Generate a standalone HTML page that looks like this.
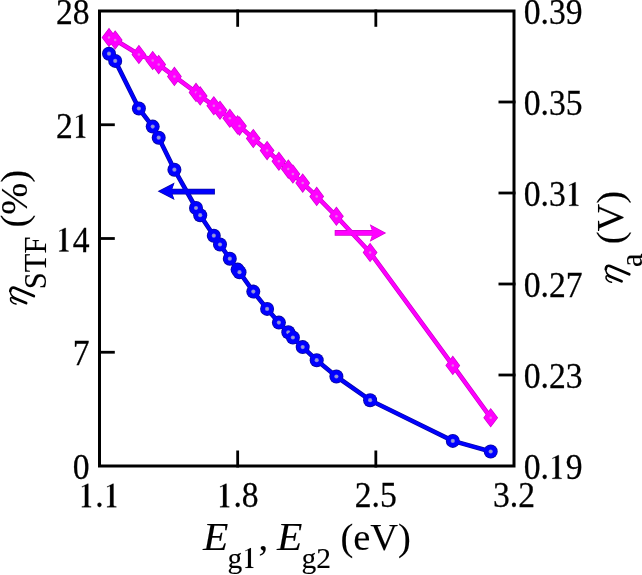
<!DOCTYPE html>
<html><head><meta charset="utf-8"><style>
html,body{margin:0;padding:0;background:#fff;}
svg{display:block;will-change:transform;}
text{font-family:"Liberation Serif",serif;font-size:35px;fill:#000;stroke:#000;stroke-width:0.25px;}
</style></head><body>
<svg width="642" height="575" viewBox="0 0 642 575">
<rect width="642" height="575" fill="#fff"/>
<polyline points="109.0,37.5 115.2,40.0 138.9,54.5 152.7,60.5 158.7,64.6 174.4,76.4 196.0,92.4 200.2,95.9 213.8,105.8 220.0,110.2 229.8,118.2 237.6,124.9 239.5,126.1 253.3,138.5 267.1,150.6 278.9,161.2 288.3,169.1 292.9,174.0 302.7,183.1 316.7,196.4 336.4,216.3 370.1,252.5 452.8,365.4 490.7,417.7" fill="none" stroke="#cc00cc" stroke-width="4.6" stroke-linejoin="round"/>
<path d="M109.00,27.70L116.40,37.50L109.00,47.30L101.60,37.50Z" fill="#cc00cc"/>
<path d="M115.20,30.20L122.60,40.00L115.20,49.80L107.80,40.00Z" fill="#cc00cc"/>
<path d="M138.90,44.70L146.30,54.50L138.90,64.30L131.50,54.50Z" fill="#cc00cc"/>
<path d="M152.70,50.70L160.10,60.50L152.70,70.30L145.30,60.50Z" fill="#cc00cc"/>
<path d="M158.70,54.80L166.10,64.60L158.70,74.40L151.30,64.60Z" fill="#cc00cc"/>
<path d="M174.40,66.60L181.80,76.40L174.40,86.20L167.00,76.40Z" fill="#cc00cc"/>
<path d="M196.00,82.60L203.40,92.40L196.00,102.20L188.60,92.40Z" fill="#cc00cc"/>
<path d="M200.20,86.10L207.60,95.90L200.20,105.70L192.80,95.90Z" fill="#cc00cc"/>
<path d="M213.80,96.00L221.20,105.80L213.80,115.60L206.40,105.80Z" fill="#cc00cc"/>
<path d="M220.00,100.40L227.40,110.20L220.00,120.00L212.60,110.20Z" fill="#cc00cc"/>
<path d="M229.80,108.40L237.20,118.20L229.80,128.00L222.40,118.20Z" fill="#cc00cc"/>
<path d="M237.60,115.10L245.00,124.90L237.60,134.70L230.20,124.90Z" fill="#cc00cc"/>
<path d="M239.50,116.30L246.90,126.10L239.50,135.90L232.10,126.10Z" fill="#cc00cc"/>
<path d="M253.30,128.70L260.70,138.50L253.30,148.30L245.90,138.50Z" fill="#cc00cc"/>
<path d="M267.10,140.80L274.50,150.60L267.10,160.40L259.70,150.60Z" fill="#cc00cc"/>
<path d="M278.90,151.40L286.30,161.20L278.90,171.00L271.50,161.20Z" fill="#cc00cc"/>
<path d="M288.30,159.30L295.70,169.10L288.30,178.90L280.90,169.10Z" fill="#cc00cc"/>
<path d="M292.90,164.20L300.30,174.00L292.90,183.80L285.50,174.00Z" fill="#cc00cc"/>
<path d="M302.70,173.30L310.10,183.10L302.70,192.90L295.30,183.10Z" fill="#cc00cc"/>
<path d="M316.70,186.60L324.10,196.40L316.70,206.20L309.30,196.40Z" fill="#cc00cc"/>
<path d="M336.40,206.50L343.80,216.30L336.40,226.10L329.00,216.30Z" fill="#cc00cc"/>
<path d="M370.10,242.70L377.50,252.50L370.10,262.30L362.70,252.50Z" fill="#cc00cc"/>
<path d="M452.80,355.60L460.20,365.40L452.80,375.20L445.40,365.40Z" fill="#cc00cc"/>
<path d="M490.70,407.90L498.10,417.70L490.70,427.50L483.30,417.70Z" fill="#cc00cc"/>
<line x1="334.7" y1="232.9" x2="376" y2="232.9" stroke="#cc00cc" stroke-width="5.6"/><polygon points="386.2,233.0 369.8,224.3 372.8,233.0 369.8,241.7" fill="#cc00cc"/>
<polyline points="109.0,37.5 115.2,40.0 138.9,54.5 152.7,60.5 158.7,64.6 174.4,76.4 196.0,92.4 200.2,95.9 213.8,105.8 220.0,110.2 229.8,118.2 237.6,124.9 239.5,126.1 253.3,138.5 267.1,150.6 278.9,161.2 288.3,169.1 292.9,174.0 302.7,183.1 316.7,196.4 336.4,216.3 370.1,252.5 452.8,365.4 490.7,417.7" fill="none" stroke="#ff00ff" stroke-width="3.1999999999999997" stroke-linejoin="round"/>
<path d="M109.00,28.74L115.60,37.50L109.00,46.26L102.40,37.50Z" fill="#ff00ff"/><circle cx="109.0" cy="37.5" r="1.25" fill="#e872e8"/>
<path d="M115.20,31.24L121.80,40.00L115.20,48.76L108.60,40.00Z" fill="#ff00ff"/><circle cx="115.2" cy="40.0" r="1.25" fill="#e872e8"/>
<path d="M138.90,45.74L145.50,54.50L138.90,63.26L132.30,54.50Z" fill="#ff00ff"/><circle cx="138.9" cy="54.5" r="1.25" fill="#e872e8"/>
<path d="M152.70,51.74L159.30,60.50L152.70,69.26L146.10,60.50Z" fill="#ff00ff"/><circle cx="152.7" cy="60.5" r="1.25" fill="#e872e8"/>
<path d="M158.70,55.84L165.30,64.60L158.70,73.36L152.10,64.60Z" fill="#ff00ff"/><circle cx="158.7" cy="64.6" r="1.25" fill="#e872e8"/>
<path d="M174.40,67.64L181.00,76.40L174.40,85.16L167.80,76.40Z" fill="#ff00ff"/><circle cx="174.4" cy="76.4" r="1.25" fill="#e872e8"/>
<path d="M196.00,83.64L202.60,92.40L196.00,101.16L189.40,92.40Z" fill="#ff00ff"/><circle cx="196.0" cy="92.4" r="1.25" fill="#e872e8"/>
<path d="M200.20,87.14L206.80,95.90L200.20,104.66L193.60,95.90Z" fill="#ff00ff"/><circle cx="200.2" cy="95.9" r="1.25" fill="#e872e8"/>
<path d="M213.80,97.04L220.40,105.80L213.80,114.56L207.20,105.80Z" fill="#ff00ff"/><circle cx="213.8" cy="105.8" r="1.25" fill="#e872e8"/>
<path d="M220.00,101.44L226.60,110.20L220.00,118.96L213.40,110.20Z" fill="#ff00ff"/><circle cx="220.0" cy="110.2" r="1.25" fill="#e872e8"/>
<path d="M229.80,109.44L236.40,118.20L229.80,126.96L223.20,118.20Z" fill="#ff00ff"/><circle cx="229.8" cy="118.2" r="1.25" fill="#e872e8"/>
<path d="M237.60,116.14L244.20,124.90L237.60,133.66L231.00,124.90Z" fill="#ff00ff"/><circle cx="237.6" cy="124.9" r="1.25" fill="#e872e8"/>
<path d="M239.50,117.34L246.10,126.10L239.50,134.86L232.90,126.10Z" fill="#ff00ff"/><circle cx="239.5" cy="126.1" r="1.25" fill="#e872e8"/>
<path d="M253.30,129.74L259.90,138.50L253.30,147.26L246.70,138.50Z" fill="#ff00ff"/><circle cx="253.3" cy="138.5" r="1.25" fill="#e872e8"/>
<path d="M267.10,141.84L273.70,150.60L267.10,159.36L260.50,150.60Z" fill="#ff00ff"/><circle cx="267.1" cy="150.6" r="1.25" fill="#e872e8"/>
<path d="M278.90,152.44L285.50,161.20L278.90,169.96L272.30,161.20Z" fill="#ff00ff"/><circle cx="278.9" cy="161.2" r="1.25" fill="#e872e8"/>
<path d="M288.30,160.34L294.90,169.10L288.30,177.86L281.70,169.10Z" fill="#ff00ff"/><circle cx="288.3" cy="169.1" r="1.25" fill="#e872e8"/>
<path d="M292.90,165.24L299.50,174.00L292.90,182.76L286.30,174.00Z" fill="#ff00ff"/><circle cx="292.9" cy="174.0" r="1.25" fill="#e872e8"/>
<path d="M302.70,174.34L309.30,183.10L302.70,191.86L296.10,183.10Z" fill="#ff00ff"/><circle cx="302.7" cy="183.1" r="1.25" fill="#e872e8"/>
<path d="M316.70,187.64L323.30,196.40L316.70,205.16L310.10,196.40Z" fill="#ff00ff"/><circle cx="316.7" cy="196.4" r="1.25" fill="#e872e8"/>
<path d="M336.40,207.54L343.00,216.30L336.40,225.06L329.80,216.30Z" fill="#ff00ff"/><circle cx="336.4" cy="216.3" r="1.25" fill="#e872e8"/>
<path d="M370.10,243.74L376.70,252.50L370.10,261.26L363.50,252.50Z" fill="#ff00ff"/><circle cx="370.1" cy="252.5" r="1.25" fill="#e872e8"/>
<path d="M452.80,356.64L459.40,365.40L452.80,374.16L446.20,365.40Z" fill="#ff00ff"/><circle cx="452.8" cy="365.4" r="1.25" fill="#e872e8"/>
<path d="M490.70,408.94L497.30,417.70L490.70,426.46L484.10,417.70Z" fill="#ff00ff"/><circle cx="490.7" cy="417.7" r="1.25" fill="#e872e8"/>
<line x1="335.4" y1="232.9" x2="376" y2="232.9" stroke="#ff00ff" stroke-width="4.2"/><polygon points="384.92,233.00 370.48,225.34 373.12,233.00 370.48,240.66" fill="#ff00ff"/>
<polyline points="109.0,53.7 115.2,60.9 138.9,108.5 152.7,126.6 158.7,137.7 174.4,169.7 196.0,208.0 200.2,215.2 213.8,235.7 220.0,244.5 229.8,258.7 237.6,269.6 239.5,272.2 253.3,291.6 267.1,308.9 278.9,322.6 288.3,332.3 292.9,337.5 302.7,347.1 316.7,360.2 336.4,376.5 370.1,400.2 452.8,440.9 490.7,451.5" fill="none" stroke="#0808a0" stroke-width="4.6" stroke-linejoin="round"/>
<circle cx="109.0" cy="53.7" r="7" fill="#0808a0"/>
<circle cx="115.2" cy="60.9" r="7" fill="#0808a0"/>
<circle cx="138.9" cy="108.5" r="7" fill="#0808a0"/>
<circle cx="152.7" cy="126.6" r="7" fill="#0808a0"/>
<circle cx="158.7" cy="137.7" r="7" fill="#0808a0"/>
<circle cx="174.4" cy="169.7" r="7" fill="#0808a0"/>
<circle cx="196.0" cy="208.0" r="7" fill="#0808a0"/>
<circle cx="200.2" cy="215.2" r="7" fill="#0808a0"/>
<circle cx="213.8" cy="235.7" r="7" fill="#0808a0"/>
<circle cx="220.0" cy="244.5" r="7" fill="#0808a0"/>
<circle cx="229.8" cy="258.7" r="7" fill="#0808a0"/>
<circle cx="237.6" cy="269.6" r="7" fill="#0808a0"/>
<circle cx="239.5" cy="272.2" r="7" fill="#0808a0"/>
<circle cx="253.3" cy="291.6" r="7" fill="#0808a0"/>
<circle cx="267.1" cy="308.9" r="7" fill="#0808a0"/>
<circle cx="278.9" cy="322.6" r="7" fill="#0808a0"/>
<circle cx="288.3" cy="332.3" r="7" fill="#0808a0"/>
<circle cx="292.9" cy="337.5" r="7" fill="#0808a0"/>
<circle cx="302.7" cy="347.1" r="7" fill="#0808a0"/>
<circle cx="316.7" cy="360.2" r="7" fill="#0808a0"/>
<circle cx="336.4" cy="376.5" r="7" fill="#0808a0"/>
<circle cx="370.1" cy="400.2" r="7" fill="#0808a0"/>
<circle cx="452.8" cy="440.9" r="7" fill="#0808a0"/>
<circle cx="490.7" cy="451.5" r="7" fill="#0808a0"/>
<line x1="168" y1="191.6" x2="214.9" y2="191.6" stroke="#0808a0" stroke-width="5.6"/><polygon points="157.6,191.3 174.6,182.6 171.5,191.3 174.6,200.0" fill="#0808a0"/>
<polyline points="109.0,53.7 115.2,60.9 138.9,108.5 152.7,126.6 158.7,137.7 174.4,169.7 196.0,208.0 200.2,215.2 213.8,235.7 220.0,244.5 229.8,258.7 237.6,269.6 239.5,272.2 253.3,291.6 267.1,308.9 278.9,322.6 288.3,332.3 292.9,337.5 302.7,347.1 316.7,360.2 336.4,376.5 370.1,400.2 452.8,440.9 490.7,451.5" fill="none" stroke="#0000ff" stroke-width="3.1999999999999997" stroke-linejoin="round"/>
<circle cx="109.0" cy="53.7" r="6.2" fill="#0000ff"/><circle cx="109.0" cy="53.7" r="2.1" fill="#7c7cf2"/><circle cx="109.0" cy="53.7" r="1.25" fill="#a0a0c4"/>
<circle cx="115.2" cy="60.9" r="6.2" fill="#0000ff"/><circle cx="115.2" cy="60.9" r="2.1" fill="#7c7cf2"/><circle cx="115.2" cy="60.9" r="1.25" fill="#a0a0c4"/>
<circle cx="138.9" cy="108.5" r="6.2" fill="#0000ff"/><circle cx="138.9" cy="108.5" r="2.1" fill="#7c7cf2"/><circle cx="138.9" cy="108.5" r="1.25" fill="#a0a0c4"/>
<circle cx="152.7" cy="126.6" r="6.2" fill="#0000ff"/><circle cx="152.7" cy="126.6" r="2.1" fill="#7c7cf2"/><circle cx="152.7" cy="126.6" r="1.25" fill="#a0a0c4"/>
<circle cx="158.7" cy="137.7" r="6.2" fill="#0000ff"/><circle cx="158.7" cy="137.7" r="2.1" fill="#7c7cf2"/><circle cx="158.7" cy="137.7" r="1.25" fill="#a0a0c4"/>
<circle cx="174.4" cy="169.7" r="6.2" fill="#0000ff"/><circle cx="174.4" cy="169.7" r="2.1" fill="#7c7cf2"/><circle cx="174.4" cy="169.7" r="1.25" fill="#a0a0c4"/>
<circle cx="196.0" cy="208.0" r="6.2" fill="#0000ff"/><circle cx="196.0" cy="208.0" r="2.1" fill="#7c7cf2"/><circle cx="196.0" cy="208.0" r="1.25" fill="#a0a0c4"/>
<circle cx="200.2" cy="215.2" r="6.2" fill="#0000ff"/><circle cx="200.2" cy="215.2" r="2.1" fill="#7c7cf2"/><circle cx="200.2" cy="215.2" r="1.25" fill="#a0a0c4"/>
<circle cx="213.8" cy="235.7" r="6.2" fill="#0000ff"/><circle cx="213.8" cy="235.7" r="2.1" fill="#7c7cf2"/><circle cx="213.8" cy="235.7" r="1.25" fill="#a0a0c4"/>
<circle cx="220.0" cy="244.5" r="6.2" fill="#0000ff"/><circle cx="220.0" cy="244.5" r="2.1" fill="#7c7cf2"/><circle cx="220.0" cy="244.5" r="1.25" fill="#a0a0c4"/>
<circle cx="229.8" cy="258.7" r="6.2" fill="#0000ff"/><circle cx="229.8" cy="258.7" r="2.1" fill="#7c7cf2"/><circle cx="229.8" cy="258.7" r="1.25" fill="#a0a0c4"/>
<circle cx="237.6" cy="269.6" r="6.2" fill="#0000ff"/><circle cx="237.6" cy="269.6" r="2.1" fill="#7c7cf2"/><circle cx="237.6" cy="269.6" r="1.25" fill="#a0a0c4"/>
<circle cx="239.5" cy="272.2" r="6.2" fill="#0000ff"/><circle cx="239.5" cy="272.2" r="2.1" fill="#7c7cf2"/><circle cx="239.5" cy="272.2" r="1.25" fill="#a0a0c4"/>
<circle cx="253.3" cy="291.6" r="6.2" fill="#0000ff"/><circle cx="253.3" cy="291.6" r="2.1" fill="#7c7cf2"/><circle cx="253.3" cy="291.6" r="1.25" fill="#a0a0c4"/>
<circle cx="267.1" cy="308.9" r="6.2" fill="#0000ff"/><circle cx="267.1" cy="308.9" r="2.1" fill="#7c7cf2"/><circle cx="267.1" cy="308.9" r="1.25" fill="#a0a0c4"/>
<circle cx="278.9" cy="322.6" r="6.2" fill="#0000ff"/><circle cx="278.9" cy="322.6" r="2.1" fill="#7c7cf2"/><circle cx="278.9" cy="322.6" r="1.25" fill="#a0a0c4"/>
<circle cx="288.3" cy="332.3" r="6.2" fill="#0000ff"/><circle cx="288.3" cy="332.3" r="2.1" fill="#7c7cf2"/><circle cx="288.3" cy="332.3" r="1.25" fill="#a0a0c4"/>
<circle cx="292.9" cy="337.5" r="6.2" fill="#0000ff"/><circle cx="292.9" cy="337.5" r="2.1" fill="#7c7cf2"/><circle cx="292.9" cy="337.5" r="1.25" fill="#a0a0c4"/>
<circle cx="302.7" cy="347.1" r="6.2" fill="#0000ff"/><circle cx="302.7" cy="347.1" r="2.1" fill="#7c7cf2"/><circle cx="302.7" cy="347.1" r="1.25" fill="#a0a0c4"/>
<circle cx="316.7" cy="360.2" r="6.2" fill="#0000ff"/><circle cx="316.7" cy="360.2" r="2.1" fill="#7c7cf2"/><circle cx="316.7" cy="360.2" r="1.25" fill="#a0a0c4"/>
<circle cx="336.4" cy="376.5" r="6.2" fill="#0000ff"/><circle cx="336.4" cy="376.5" r="2.1" fill="#7c7cf2"/><circle cx="336.4" cy="376.5" r="1.25" fill="#a0a0c4"/>
<circle cx="370.1" cy="400.2" r="6.2" fill="#0000ff"/><circle cx="370.1" cy="400.2" r="2.1" fill="#7c7cf2"/><circle cx="370.1" cy="400.2" r="1.25" fill="#a0a0c4"/>
<circle cx="452.8" cy="440.9" r="6.2" fill="#0000ff"/><circle cx="452.8" cy="440.9" r="2.1" fill="#7c7cf2"/><circle cx="452.8" cy="440.9" r="1.25" fill="#a0a0c4"/>
<circle cx="490.7" cy="451.5" r="6.2" fill="#0000ff"/><circle cx="490.7" cy="451.5" r="2.1" fill="#7c7cf2"/><circle cx="490.7" cy="451.5" r="1.25" fill="#a0a0c4"/>
<line x1="168" y1="191.6" x2="214.2" y2="191.6" stroke="#0000ff" stroke-width="4.2"/><polygon points="158.91,191.30 173.87,183.64 171.14,191.30 173.87,198.96" fill="#0000ff"/>

<line x1="98" y1="352.25" x2="114.8" y2="352.25" stroke="#000" stroke-width="2.8"/>
<line x1="98" y1="238.50" x2="114.8" y2="238.50" stroke="#000" stroke-width="2.8"/>
<line x1="98" y1="124.75" x2="114.8" y2="124.75" stroke="#000" stroke-width="2.8"/>
<line x1="498.5" y1="375.00" x2="515.5" y2="375.00" stroke="#000" stroke-width="2.8"/>
<line x1="498.5" y1="284.00" x2="515.5" y2="284.00" stroke="#000" stroke-width="2.8"/>
<line x1="498.5" y1="193.00" x2="515.5" y2="193.00" stroke="#000" stroke-width="2.8"/>
<line x1="498.5" y1="102.00" x2="515.5" y2="102.00" stroke="#000" stroke-width="2.8"/>
<line x1="237.67" y1="467.5" x2="237.67" y2="450.5" stroke="#000" stroke-width="2.8"/>
<line x1="237.67" y1="9.5" x2="237.67" y2="26.8" stroke="#000" stroke-width="2.8"/>
<line x1="375.83" y1="467.5" x2="375.83" y2="450.5" stroke="#000" stroke-width="2.8"/>
<line x1="375.83" y1="9.5" x2="375.83" y2="26.8" stroke="#000" stroke-width="2.8"/>
<rect x="99.5" y="11" width="414.5" height="455" fill="none" stroke="#000" stroke-width="3"/>
<g transform="translate(72.70,479.00) scale(0.96,1)"><text x="0.00" y="0" style="font-size:35px">0</text></g>
<g transform="translate(72.70,365.25) scale(0.96,1)"><text x="0.00" y="0" style="font-size:35px">7</text></g>
<g transform="translate(55.90,251.50) scale(0.96,1)"><path transform="translate(0.00,0) scale(35)" d="M0.10,0 L0.375,0 L0.375,-0.022 Q0.302,-0.026 0.292,-0.062 L0.292,-0.674 L0.272,-0.674 L0.098,-0.588 L0.106,-0.572 Q0.158,-0.598 0.172,-0.598 Q0.19,-0.598 0.19,-0.57 L0.19,-0.062 Q0.186,-0.026 0.10,-0.022 Z" fill="#000" stroke="#000" stroke-width="0.0071"/><text x="17.50" y="0" style="font-size:35px">4</text></g>
<g transform="translate(55.90,137.75) scale(0.96,1)"><text x="0.00" y="0" style="font-size:35px">2</text><path transform="translate(17.50,0) scale(35)" d="M0.10,0 L0.375,0 L0.375,-0.022 Q0.302,-0.026 0.292,-0.062 L0.292,-0.674 L0.272,-0.674 L0.098,-0.588 L0.106,-0.572 Q0.158,-0.598 0.172,-0.598 Q0.19,-0.598 0.19,-0.57 L0.19,-0.062 Q0.186,-0.026 0.10,-0.022 Z" fill="#000" stroke="#000" stroke-width="0.0071"/></g>
<g transform="translate(55.90,24.00) scale(0.96,1)"><text x="0.00" y="0" style="font-size:35px">2</text><text x="17.50" y="0" style="font-size:35px">8</text></g>
<g transform="translate(523.80,478.80) scale(0.96,1)"><text x="0.00" y="0" style="font-size:35px">0</text><text x="17.50" y="0" style="font-size:35px">.</text><path transform="translate(26.25,0) scale(35)" d="M0.10,0 L0.375,0 L0.375,-0.022 Q0.302,-0.026 0.292,-0.062 L0.292,-0.674 L0.272,-0.674 L0.098,-0.588 L0.106,-0.572 Q0.158,-0.598 0.172,-0.598 Q0.19,-0.598 0.19,-0.57 L0.19,-0.062 Q0.186,-0.026 0.10,-0.022 Z" fill="#000" stroke="#000" stroke-width="0.0071"/><text x="43.75" y="0" style="font-size:35px">9</text></g>
<g transform="translate(523.80,387.80) scale(0.96,1)"><text x="0.00" y="0" style="font-size:35px">0</text><text x="17.50" y="0" style="font-size:35px">.</text><text x="26.25" y="0" style="font-size:35px">2</text><text x="43.75" y="0" style="font-size:35px">3</text></g>
<g transform="translate(523.80,296.80) scale(0.96,1)"><text x="0.00" y="0" style="font-size:35px">0</text><text x="17.50" y="0" style="font-size:35px">.</text><text x="26.25" y="0" style="font-size:35px">2</text><text x="43.75" y="0" style="font-size:35px">7</text></g>
<g transform="translate(523.80,205.80) scale(0.96,1)"><text x="0.00" y="0" style="font-size:35px">0</text><text x="17.50" y="0" style="font-size:35px">.</text><text x="26.25" y="0" style="font-size:35px">3</text><path transform="translate(43.75,0) scale(35)" d="M0.10,0 L0.375,0 L0.375,-0.022 Q0.302,-0.026 0.292,-0.062 L0.292,-0.674 L0.272,-0.674 L0.098,-0.588 L0.106,-0.572 Q0.158,-0.598 0.172,-0.598 Q0.19,-0.598 0.19,-0.57 L0.19,-0.062 Q0.186,-0.026 0.10,-0.022 Z" fill="#000" stroke="#000" stroke-width="0.0071"/></g>
<g transform="translate(523.80,114.80) scale(0.96,1)"><text x="0.00" y="0" style="font-size:35px">0</text><text x="17.50" y="0" style="font-size:35px">.</text><text x="26.25" y="0" style="font-size:35px">3</text><text x="43.75" y="0" style="font-size:35px">5</text></g>
<g transform="translate(523.80,23.80) scale(0.96,1)"><text x="0.00" y="0" style="font-size:35px">0</text><text x="17.50" y="0" style="font-size:35px">.</text><text x="26.25" y="0" style="font-size:35px">3</text><text x="43.75" y="0" style="font-size:35px">9</text></g>
<g transform="translate(78.50,507.30) scale(0.96,1)"><path transform="translate(0.00,0) scale(35)" d="M0.10,0 L0.375,0 L0.375,-0.022 Q0.302,-0.026 0.292,-0.062 L0.292,-0.674 L0.272,-0.674 L0.098,-0.588 L0.106,-0.572 Q0.158,-0.598 0.172,-0.598 Q0.19,-0.598 0.19,-0.57 L0.19,-0.062 Q0.186,-0.026 0.10,-0.022 Z" fill="#000" stroke="#000" stroke-width="0.0071"/><text x="17.50" y="0" style="font-size:35px">.</text><path transform="translate(26.25,0) scale(35)" d="M0.10,0 L0.375,0 L0.375,-0.022 Q0.302,-0.026 0.292,-0.062 L0.292,-0.674 L0.272,-0.674 L0.098,-0.588 L0.106,-0.572 Q0.158,-0.598 0.172,-0.598 Q0.19,-0.598 0.19,-0.57 L0.19,-0.062 Q0.186,-0.026 0.10,-0.022 Z" fill="#000" stroke="#000" stroke-width="0.0071"/></g>
<g transform="translate(216.67,507.30) scale(0.96,1)"><path transform="translate(0.00,0) scale(35)" d="M0.10,0 L0.375,0 L0.375,-0.022 Q0.302,-0.026 0.292,-0.062 L0.292,-0.674 L0.272,-0.674 L0.098,-0.588 L0.106,-0.572 Q0.158,-0.598 0.172,-0.598 Q0.19,-0.598 0.19,-0.57 L0.19,-0.062 Q0.186,-0.026 0.10,-0.022 Z" fill="#000" stroke="#000" stroke-width="0.0071"/><text x="17.50" y="0" style="font-size:35px">.</text><text x="26.25" y="0" style="font-size:35px">8</text></g>
<g transform="translate(354.83,507.30) scale(0.96,1)"><text x="0.00" y="0" style="font-size:35px">2</text><text x="17.50" y="0" style="font-size:35px">.</text><text x="26.25" y="0" style="font-size:35px">5</text></g>
<g transform="translate(493.00,507.30) scale(0.96,1)"><text x="0.00" y="0" style="font-size:35px">3</text><text x="17.50" y="0" style="font-size:35px">.</text><text x="26.25" y="0" style="font-size:35px">2</text></g>
<text transform="translate(203.1,550) scale(1.05,1)" style="font-size:39.5px;stroke-width:0.1px" font-style="italic">E</text>
<text x="227.6" y="568" style="font-size:29.5px;stroke-width:0.1px">g</text>
<path transform="translate(242.35,568) scale(29.5)" d="M0.10,0 L0.375,0 L0.375,-0.022 Q0.302,-0.026 0.292,-0.062 L0.292,-0.674 L0.272,-0.674 L0.098,-0.588 L0.106,-0.572 Q0.158,-0.598 0.172,-0.598 Q0.19,-0.598 0.19,-0.57 L0.19,-0.062 Q0.186,-0.026 0.10,-0.022 Z" fill="#000" stroke="#000" stroke-width="0.0034"/>
<text x="258.5" y="550" style="font-size:38.5px;stroke-width:0.1px">,</text>
<text transform="translate(276.9,550) scale(1.05,1)" style="font-size:39.5px;stroke-width:0.1px" font-style="italic">E</text>
<text x="301.4" y="568" style="font-size:29.5px;stroke-width:0.1px">g2</text>
<text x="340.4" y="550" style="font-size:38.5px;stroke-width:0.1px">(eV)</text>
<g transform="translate(27,306) rotate(-90)" fill="none" stroke="#000" stroke-linecap="round" stroke-linejoin="round"><path d="M1.9,-11.0 C2.4,-14.4 5.0,-16.9 7.3,-16.5 C8.6,-16.2 8.8,-14.8 8.3,-13.4" stroke-width="1.5"/><path d="M8.3,-13.6 L2.9,-0.9" stroke-width="2.7"/><path d="M7.9,-11.8 C9.6,-15.3 12.4,-16.9 15.2,-16.7" stroke-width="1.5"/><path d="M15.0,-16.7 C18.0,-16.6 18.9,-14.6 18.2,-12.6 L9.9,6.8" stroke-width="2.7"/></g>
<text transform="translate(45.9,289.2) rotate(-90)" style="font-size:30.5px;stroke-width:0.1px">STF</text>
<text transform="translate(27,227.6) rotate(-90)" style="font-size:38.5px;stroke-width:0.1px">(%)</text>
<g transform="translate(622.5,284.2) rotate(-90)" fill="none" stroke="#000" stroke-linecap="round" stroke-linejoin="round"><path d="M1.9,-11.0 C2.4,-14.4 5.0,-16.9 7.3,-16.5 C8.6,-16.2 8.8,-14.8 8.3,-13.4" stroke-width="1.5"/><path d="M8.3,-13.6 L2.9,-0.9" stroke-width="2.7"/><path d="M7.9,-11.8 C9.6,-15.3 12.4,-16.9 15.2,-16.7" stroke-width="1.5"/><path d="M15.0,-16.7 C18.0,-16.6 18.9,-14.6 18.2,-12.6 L9.9,6.8" stroke-width="2.7"/></g>
<text transform="translate(641.5,267) rotate(-90)" style="font-size:30.5px;stroke-width:0.1px">a</text>
<text transform="translate(622.6,244.3) rotate(-90)" style="font-size:38.5px;stroke-width:0.1px">(V)</text>
</svg>
</body></html>
